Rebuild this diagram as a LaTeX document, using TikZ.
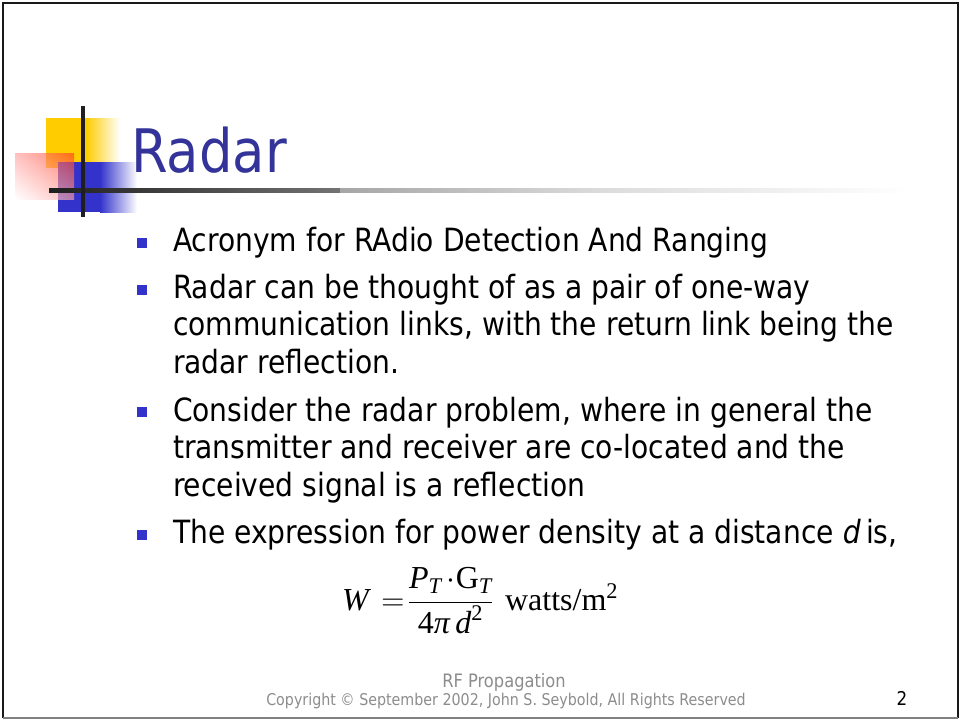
\RequirePackage{fix-cm}
\documentclass[tikz,border=0pt]{standalone}
\usepackage{amsmath}
\usepackage{fontspec}
\usepackage{tikz}
\usetikzlibrary{positioning, shadings}
\setmainfont{DejaVu Sans}[FakeStretch=0.88]
\newfontfamily\timesfont{Liberation Serif}
\definecolor{titleblue}{RGB}{51,51,153}
\definecolor{bulletblue}{RGB}{51,51,204}
\definecolor{logoyellow}{RGB}{255,204,0}
\definecolor{logored}{RGB}{255,60,30}
\definecolor{logopink}{RGB}{255,160,160}
\definecolor{footgray}{RGB}{140,140,140}

\begin{document}
\begin{tikzpicture}[x=1pt, y=-1pt,% pixel coordinates, y downwards
    bodytext/.style = {inner sep=0pt, outer sep=0pt, anchor=base west,
                       align=left, font=\fontsize{32}{37.5}\selectfont},
    bullet/.style = {fill=bulletblue, minimum size=10pt,
                     inner sep=0pt, outer sep=0pt, node contents={}},
    foot/.style = {inner sep=0pt, anchor=base, text=footgray,
                   font=\fontsize{16.2}{20}\selectfont},
    rule/.style = {line width=4pt, black!88}
                        ]
    \useasboundingbox (0,0) rectangle (961,721);
    % slide frame
    \draw[line width=2.5pt, black!90] (3,718) -- (3,3) -- (958,3) -- (958,718);
    \draw[line width=1.5pt, black!50] (3,718) -- (958,718);

    % logo squares
    \fill[logoyellow] (46,118) rectangle (86,168);
    \shade[left color=logoyellow, right color=white] (86,118) rectangle (120,168);
    \fill[bulletblue] (58,162) rectangle (100,212);
    \shade[left color=bulletblue, right color=white] (100,162) rectangle (137,212);
    \shade[fill opacity=0.65, upper right=logored, upper left=logopink,
           lower right=logopink, lower left=white] (15,153) rectangle (74,199);

    % title rule and cross line
    \shade[left color=black!88, right color=black!55] (49,188.5) rectangle (340,192.5);
    \shade[left color=black!35, right color=black!14] (340,188.5) rectangle (600,192.5);
    \shade[left color=black!14, right color=white] (600,188.5) rectangle (910,192.5);
    \draw[rule] (83,106) -- (83,217);

    % title
    \node[inner sep=0pt, anchor=base west, text=titleblue,
          font=\fontsize{60}{70}\selectfont] (title) at (131,172) {Radar};

    % bullets (base anchor = last line of each block)
    \node (b1) at (142,243) [bullet];
    \node (b2) at (142,290) [bullet];
    \node (b3) at (142,412) [bullet];
    \node (b4) at (142,535) [bullet];

    \node[bodytext] (t1) at (173,251) {Acronym for RAdio Detection And Ranging};
    \node[bodytext] (t2) at (173,373) {Radar can be thought of as a pair of one-way\\
        communication links, with the return link being the\\
        radar reflection.};
    \node[bodytext] (t3) at (173,496) {Consider the radar problem, where in general the\\
        transmitter and receiver are co-located and the\\
        received signal is a reflection};
    \node[bodytext] (t4) at (173,543) {The expression for power density at a distance \textit{d}\,is,};

    % power density
    \node[inner sep=0pt, anchor=base west,
          font=\timesfont\fontsize{32}{38}\selectfont] (W) at (342,610)
        {$\textit{W}\mkern7mu{=}\mkern2mu\dfrac{\textit{P}_{\textit{T}}\,{\cdot}\text{G}_{\textit{T}}}
                         {\text{4}\textit{π}\,\textit{d}^{\text{2}}}$\hspace{12pt}watts/m\textsuperscript{2}};

    % footer
    \node[foot, font=\fontsize{18.5}{22}\selectfont] (topic) at (504,687) {RF Propagation};
    \node[foot] (copy) at (506,705) {Copyright © September 2002, John S. Seybold, All Rights Reserved};
    \node[foot, text=black, font=\fontsize{19}{22}\selectfont] (page) at (902,705) {2};
\end{tikzpicture}
\end{document}
